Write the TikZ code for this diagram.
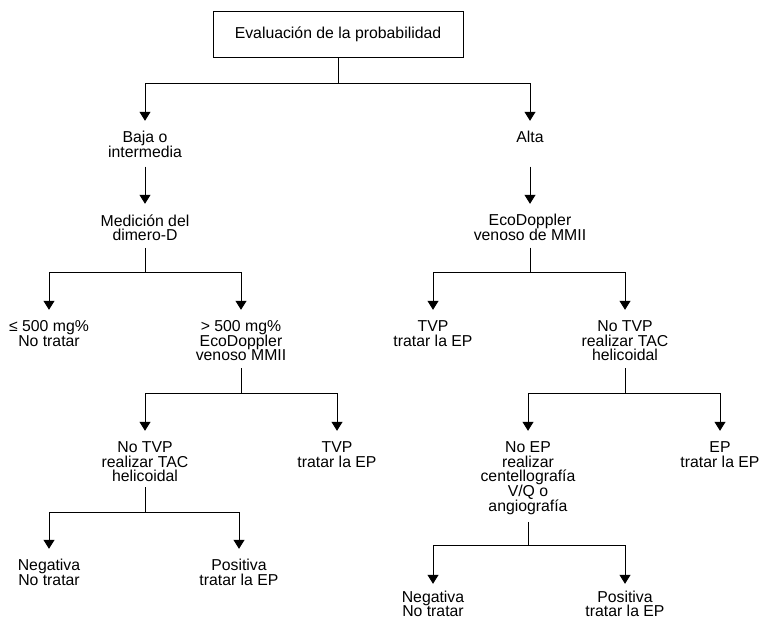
\documentclass[tikz,border=0pt]{standalone}
\usepackage{fontspec}
\setmainfont{Liberation Sans}
\usetikzlibrary{arrows.meta}
\setlength{\lineskiplimit}{-20pt}
\begin{document}
\begin{tikzpicture}[x=1pt,y=-1pt,
  lbl/.style={align=center,inner sep=0pt,anchor=north,
    font=\fontsize{15.8}{14.7}\selectfont},
  link/.style={line width=0.95pt},
  arr/.style={link,-{Triangle[width=11pt,length=9pt]},shorten >=10.5pt}]
\useasboundingbox (0,0) rectangle (760,619);

% root
\node[draw,link,minimum width=250pt,minimum height=46pt,inner sep=0pt,
  font=\fontsize{15.8}{14.7}\selectfont] (eval) at (338,34) {Evaluación de la probabilidad};

% first level
\node[lbl] (baja) at (145,131.3) {Baja o\\intermedia};
\node[lbl] (alta) at (530,131.3) {Alta};
\node[lbl] (medicion) at (145,214.3) {Medición del\\dimero-D};
\node[lbl] (ecod) at (530,214.3) {EcoDoppler\\venoso de MMII};

% second level
\node[lbl] (le500) at (49,320.3) {≤ 500 mg\%\\No tratar};
\node[lbl] (gt500) at (241,320.3) {> 500 mg\%\\EcoDoppler\\venoso MMII};
\node[lbl] (tvpa) at (433,320.3) {TVP\\tratar la EP};
\node[lbl] (notvpa) at (625,320.3) {No TVP\\realizar TAC\\helicoidal};

% third level
\node[lbl] (notvpb) at (145,441.3) {No TVP\\realizar TAC\\helicoidal};
\node[lbl] (tvpb) at (337,441.3) {TVP\\tratar la EP};
\node[lbl] (noep) at (528,441.3) {No EP\\realizar\\centellografía\\V/Q o\\angiografía};
\node[lbl] (ep) at (720,441.3) {EP\\tratar la EP};

% fourth level
\node[lbl] (nega) at (49,559.3) {Negativa\\No tratar};
\node[lbl] (posa) at (239,559.3) {Positiva\\tratar la EP};
\node[lbl] (negb) at (433,590.5) {Negativa\\No tratar};
\node[lbl] (posb) at (625,590.5) {Positiva\\tratar la EP};

% branch points
\coordinate (j0) at (338,83);
\coordinate (jm) at (145,272);
\coordinate (je) at (530,272);
\coordinate (jg) at (241,393);
\coordinate (jn) at (625,393);
\coordinate (jt) at (145,512);
\coordinate (jp) at (528,545);

% connectors
\draw[link] (eval) -- (j0);
\draw[arr] (j0) -| (baja);
\draw[arr] (j0) -| (alta);
\draw[arr,shorten <=8.7pt] (baja) -- (medicion);
\draw[arr,shorten <=23.4pt] (alta) -- (ecod);

\draw[link,shorten <=6.7pt] (medicion) -- (jm);
\draw[arr] (jm) -| (le500);
\draw[arr] (jm) -| (gt500);
\draw[link,shorten <=6.7pt] (ecod) -- (je);
\draw[arr] (je) -| (tvpa);
\draw[arr] (je) -| (notvpa);

\draw[link,shorten <=7pt] (gt500) -- (jg);
\draw[arr] (jg) -| (notvpb);
\draw[arr] (jg) -| (tvpb);
\draw[link,shorten <=7pt] (notvpa) -- (jn);
\draw[arr] (jn) -| (noep);
\draw[arr] (jn) -| (ep);

\draw[link,shorten <=5pt] (notvpb) -- (jt);
\draw[arr] (jt) -| (nega);
\draw[arr] (jt) -| (posa);
\draw[link,shorten <=7.3pt] (noep) -- (jp);
\draw[arr,shorten >=6.7pt] (jp) -| (negb);
\draw[arr,shorten >=6.7pt] (jp) -| (posb);
\end{tikzpicture}
\end{document}
